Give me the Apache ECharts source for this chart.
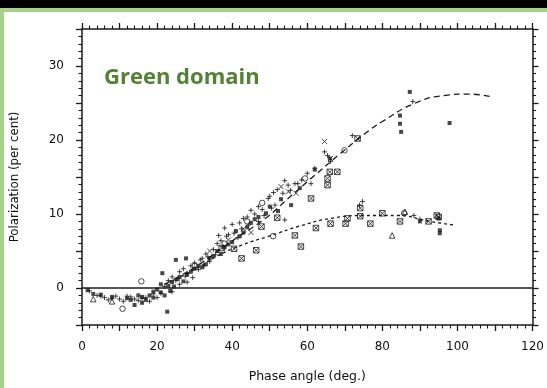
<!DOCTYPE html>
<html>
<head>
<meta charset="utf-8">
<script src="https://cdn.jsdelivr.net/npm/echarts@6/dist/echarts.min.js"></script>
<style>
html,body{margin:0;padding:0;background:#fff;}
#chart{width:547px;height:388px;}
</style>
</head>
<body>
<div id="chart"></div>
<script>
// ---- data ----
var xTickLabels = [0, 20, 40, 60, 80, 100, 120];
var yTickLabels = [0, 10, 20, 30];

var dots = [[1.5,-0.3],[3,-0.8],[5,-0.9],[8,-1.2],[12,-1.4],[14,-2.3],[16,-1.2],[18,-1.0],[19,-0.5],[20,-0.2],[21,0.5],[21.4,2.0],[22.7,-3.2],[22,-1.0],[23,0.3],[24,0.8],[25,3.8],[27.7,4.0],[26,1.5],[28,1.8],[30,2.6],[33,3.2],[35,4.3],[38,5.5],[40,6.2],[41,7.7],[44,8.2],[46,9.3],[49,10.1],[52.2,10.4],[55.7,11.2],[53,12],[58,13.5],[62,16],[66,17.5],[84.7,23.3],[84.7,22.2],[85,21.1],[87.3,26.5],[97.9,22.3],[95,9.4],[95.3,7.8],[95.3,7.4],[90,9.0],
  [24.5,0.2],[25.5,1.2],[27,0.9],[29,2.2],[31,3.0],[32,2.8],[34,4.0],[36,5.0],[37,4.6],[39,5.9],[42,7.0],[43,7.5],[45,8.8],[47,9.6],[50,11],[23.5,-0.4],[21,-0.6],[19,-1.3],[17,-1.6],[15,-1.0],[13,-1.6],[16,-2.0]];

var pluses = [[2,-0.4],[4,-1.0],[6,-1.3],[7,-1.6],[9,-1.1],[10,-1.5],[11,-1.8],[13,-1.2],[15,-1.7],[17,-1.3],[18,-1.8],[19,-0.8],[20,-1.3],[21,-0.7],[22,0.2],[23,1.0],[24,1.5],[25,1.0],[26,2.2],[27,2.6],[28,2.0],[29,3.0],[30,3.4],[31,2.5],[32,4.0],[33,4.6],[34,3.6],[35,5.2],[36,6.0],[36.4,7.1],[37,6.4],[38,8.1],[39,7.2],[40,8.6],[42,8.8],[43,9.4],[44.3,8.5],[45,10.5],[47,11.0],[48,10.6],[49.6,12.1],[50,12.4],[51.4,11.2],[52,13.3],[54,14.5],[54,9.2],[54.9,13.9],[56.7,14.1],[57.5,14.1],[60,15.5],[61,14.1],[62,16.2],[64.6,18.4],[65.4,17.9],[66.2,17.1],[72,20.6],[88.1,25.2],[90,9.3],[88.4,9.8],[73.9,11.2],[74.7,11.7],[24,-0.5],[26,0.5],[28,0.8],
  [27.5,1.6],[29.5,1.4],[31.5,3.8],[32.5,3.0],[33.5,4.2],[35.5,4.5],[37.5,5.6],[38.5,7.0],[40.5,7.4],[41.5,6.8],[42.5,8.0],[44,9.6],[46,10],[47,9.0],[48.5,9.8],[50.5,10.8],[51,12.9],[53.5,12.8],[55.5,13.2],[58.5,14.6],[12,-1.1],[14,-1.5],[16,-1.4],[8,-1.4],[5,-1.1]];

var circles = [[15.8,0.9],[10.8,-2.8],[50.9,7.0],[59.4,14.8],[69.9,18.6],[85.8,10.1],[44,9],[30,3],[38,6],[48,11.5]];

var boxes = [[37.2,5.4],[42.5,4.0],[46.4,5.1],[47.8,8.3],[56.7,7.1],[58.3,5.6],[61,12.1],[66,15.7],[68,15.7],[65.4,14.8],[65.4,13.9],[73.4,20.2],[62.3,8.1],[66.2,8.7],[70.2,8.7],[70.7,9.4],[74.1,9.7],[74.1,10.8],[76.8,8.7],[80,10.1],[84.7,9.0],[92.3,9.0],[94.5,9.8],[95,9.6],[52,9.5],[40.5,5.3]];

var triangles = [[82.6,7.1],[86,10.3],[3,-1.5],[8,-1.8]];

var xmarks = [[64.6,19.8],[66.2,17.5],[55,13],[53,13.7],[57,12.8],[43,8.0],[45,7.5],[34,5],[39,6.5]];

var upperCurve = [[22,0.5],[26,1.6],[31,3.1],[39.8,6.3],[48.8,9.4],[54.9,12.1],[61,14.8],[68.9,18.2],[75.2,20.8],[80,22.5],[88.4,24.9],[96.3,26.0],[103,26.2],[109.5,25.8]];
var lowerCurve = [[22,0.5],[30,2.5],[36,4.3],[42.5,5.8],[50.4,7.1],[57.5,8.3],[66.2,9.4],[75.2,9.8],[83.9,9.8],[92.6,9.0],[99.2,8.5]];

// ---- chart ----
var chart = echarts.init(document.getElementById('chart'), null, {renderer: 'canvas'});
var ink = '#1a1a1a';
var font = 'DejaVu Sans';

function axisCommon(extra) {
  var base = {
    type: 'value',
    axisLine: {show: true, onZero: false, lineStyle: {color: ink, width: 1.5}},
    axisTick: {show: true, inside: false, length: 6, lineStyle: {color: ink, width: 1.3}},
    minorTick: {show: true, splitNumber: 5, length: 3.5, lineStyle: {color: ink, width: 1.1}},
    splitLine: {show: false},
    minorSplitLine: {show: false}
  };
  for (var k in extra) base[k] = extra[k];
  return base;
}

var strokeStyle = {color: 'rgba(0,0,0,0)', borderColor: ink, borderWidth: 1};

function scatter(data, symbol, size, style) {
  return {
    type: 'scatter', data: data, symbol: symbol, symbolSize: size,
    itemStyle: style, silent: true, emphasis: {disabled: true}, z: 3
  };
}

var option = {
  animation: false,
  backgroundColor: '#ffffff',
  grid: {left: 82, right: 10, top: 29, bottom: 61, containLabel: false},
  xAxis: [
    axisCommon({
      min: 0, max: 120, interval: 10, position: 'bottom',
      axisLabel: {
        margin: 16, fontSize: 12, fontFamily: font, color: '#111',
        formatter: function (v) { return xTickLabels.indexOf(v) >= 0 ? String(v) : ''; }
      },
      name: 'Phase angle (deg.)', nameLocation: 'middle', nameGap: 45,
      nameTextStyle: {fontSize: 12.5, fontFamily: font, color: '#111'}
    }),
    axisCommon({
      min: 0, max: 120, interval: 10, position: 'top',
      axisLabel: {show: false}
    })
  ],
  yAxis: [
    axisCommon({
      min: -5, max: 35, interval: 5, position: 'left',
      axisLabel: {
        margin: 18, fontSize: 12, fontFamily: font, color: '#111',
        formatter: function (v) { return yTickLabels.indexOf(v) >= 0 ? String(v) : ''; }
      },
      name: 'Polarization (per cent)', nameLocation: 'middle', nameGap: 61,
      nameTextStyle: {fontSize: 11.8, fontFamily: font, color: '#111'}
    }),
    axisCommon({
      min: -5, max: 35, interval: 5, position: 'right',
      axisLabel: {show: false}
    })
  ],
  series: [
    {
      type: 'line', data: upperCurve, smooth: 0.5, showSymbol: false, silent: true,
      lineStyle: {color: ink, width: 1.3, type: [6, 4]}, z: 2,
      markLine: {
        silent: true, symbol: ['none', 'none'], label: {show: false},
        lineStyle: {color: ink, width: 1.5, type: 'solid'},
        data: [{yAxis: 0}]
      }
    },
    {
      type: 'line', data: lowerCurve, smooth: 0.5, showSymbol: false, silent: true,
      lineStyle: {color: ink, width: 1.3, type: [3, 3]}, z: 2
    },
    scatter(dots, 'rect', 4, {color: ink}),
    scatter(pluses, 'path://M0,5L10,5M5,0L5,10', 5, strokeStyle),
    scatter(xmarks, 'path://M0,0L10,10M10,0L0,10', 5, strokeStyle),
    scatter(circles, 'circle', 5.5, strokeStyle),
    scatter(boxes, 'path://M0,0L10,0L10,10L0,10ZM0,0L10,10M10,0L0,10', 5.5, strokeStyle),
    scatter(triangles, 'triangle', 5.5, strokeStyle)
  ],
  graphic: [
    {type: 'rect', left: 0, top: 0, shape: {width: 547, height: 8}, style: {fill: '#000'}, silent: true},
    {type: 'rect', left: 0, top: 8, shape: {width: 547, height: 4}, style: {fill: '#a9d18e'}, silent: true},
    {type: 'rect', left: 0, top: 8, shape: {width: 4, height: 380}, style: {fill: '#a9d18e'}, silent: true},
    {
      type: 'text', left: 104, top: 67, silent: true,
      style: {text: 'Green domain', fill: '#548235', font: 'bold 22px "Open Sans"'}
    }
  ]
};
chart.setOption(option);
</script>
</body>
</html>
